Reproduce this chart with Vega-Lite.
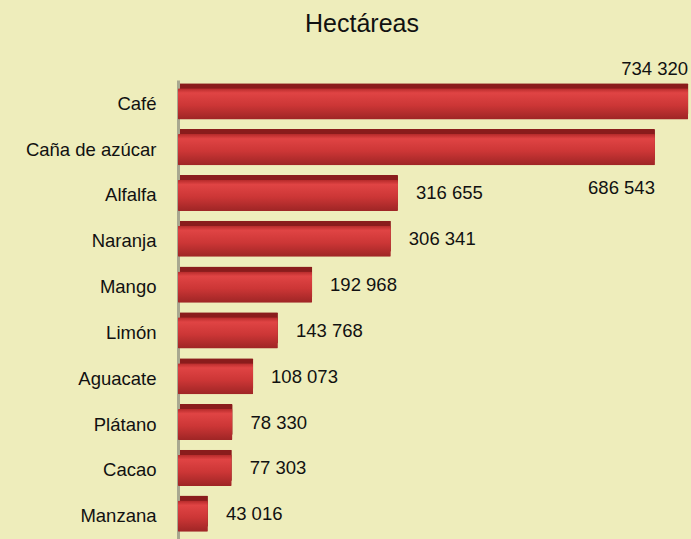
{
  "$schema": "https://vega.github.io/schema/vega-lite/v6.json",
  "width": 512,
  "height": 460,
  "autosize": {"type": "none"},
  "padding": {"left": 178, "top": 80, "right": 1, "bottom": 0},
  "background": "#eeedbb",
  "config": {
    "view": {"stroke": null},
    "font": "Liberation Sans",
    "locale": {"number": {"decimal": ",", "thousands": " ", "grouping": [3], "currency": ["", ""]}}
  },
  "title": {
    "text": "Hectáreas",
    "fontSize": 25,
    "fontWeight": "normal",
    "color": "#111111",
    "anchor": "middle",
    "frame": "group",
    "dx": -72,
    "offset": 23
  },
  "data": {
    "values": [
      {"cultivo": "Café", "ha": 734320},
      {"cultivo": "Caña de azúcar", "ha": 686543},
      {"cultivo": "Alfalfa", "ha": 316655},
      {"cultivo": "Naranja", "ha": 306341},
      {"cultivo": "Mango", "ha": 192968},
      {"cultivo": "Limón", "ha": 143768},
      {"cultivo": "Aguacate", "ha": 108073},
      {"cultivo": "Plátano", "ha": 78330},
      {"cultivo": "Cacao", "ha": 77303},
      {"cultivo": "Manzana", "ha": 43016}
    ]
  },
  "encoding": {
    "y": {
      "field": "cultivo",
      "type": "nominal",
      "sort": null,
      "scale": {"paddingInner": 0.32, "paddingOuter": 0.18},
      "axis": {
        "title": null,
        "ticks": false,
        "labelFontSize": 18.5,
        "labelColor": "#111111",
        "labelPadding": 22,
        "domainColor": "#a8a890",
        "domainWidth": 3
      }
    },
    "x": {
      "field": "ha",
      "type": "quantitative",
      "scale": {"domain": [0, 737000], "nice": false},
      "axis": null
    }
  },
  "layer": [
    {
      "mark": {"type": "bar", "color": "#8a1c1c", "xOffset": 2, "x2Offset": 6, "yOffset": -5, "y2Offset": -5, "cornerRadius": 1}
    },
    {
      "mark": {
        "type": "bar",
        "cornerRadius": 1,
        "color": {
          "gradient": "linear",
          "x1": 0, "y1": 0, "x2": 0, "y2": 1,
          "stops": [
            {"offset": 0, "color": "#b52a2a"},
            {"offset": 0.15, "color": "#e04444"},
            {"offset": 0.55, "color": "#cc3636"},
            {"offset": 1, "color": "#9e2525"}
          ]
        }
      }
    },
    {
      "transform": [{"filter": "datum.ha < 600000"}],
      "mark": {"type": "text", "align": "left", "dx": 18, "dy": -2, "fontSize": 18.5, "color": "#111111"},
      "encoding": {"text": {"field": "ha", "type": "quantitative", "format": ",d"}}
    },
    {
      "transform": [{"filter": "datum.cultivo == 'Café'"}],
      "mark": {"type": "text", "align": "right", "dx": 0, "dy": -35, "fontSize": 18.5, "color": "#111111"},
      "encoding": {"text": {"field": "ha", "type": "quantitative", "format": ",d"}}
    },
    {
      "transform": [{"filter": "datum.cultivo == 'Caña de azúcar'"}],
      "mark": {"type": "text", "align": "right", "dx": 0, "dy": 38, "fontSize": 18.5, "color": "#111111"},
      "encoding": {"text": {"field": "ha", "type": "quantitative", "format": ",d"}}
    }
  ]
}
